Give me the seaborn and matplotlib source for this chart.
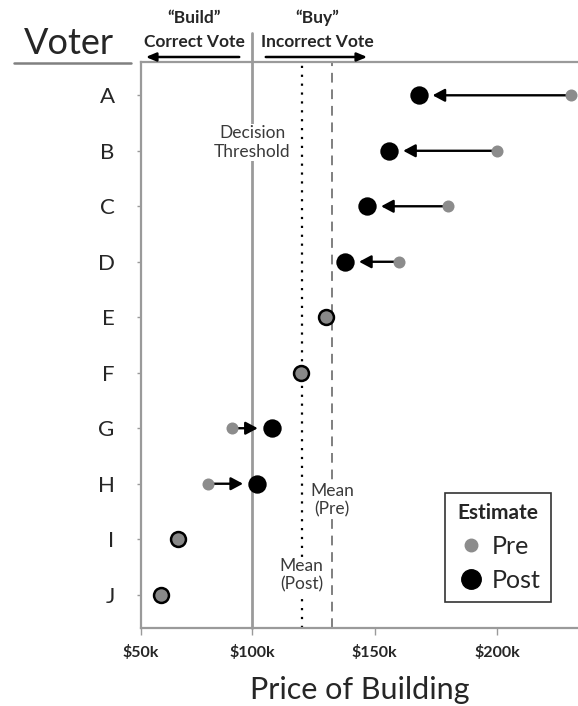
import numpy as np
import pandas as pd
import matplotlib.pyplot as plt
import seaborn as sns
from matplotlib.lines import Line2D
from matplotlib.patches import FancyArrowPatch

voters = ["A", "B", "C", "D", "E", "F", "G", "H", "I", "J"]
pre_k = [230, 200, 180, 160, 130, 120, 92, 82, 70, 63]
post_k = [168, 156, 147, 138, 130, 120, 108, 102, 70, 63]
threshold_k = 100
tick_k = [100, 150, 200]
tick_labels = ["$100k", "$150k", "$200k"]

W, H = 578, 706
sns.set_theme(style="white")
plt.rcParams["font.family"] = ["Lato", "DejaVu Sans"]

df = pd.DataFrame({"voter": voters,
                   "pre": np.array(pre_k) * 1000,
                   "post": np.array(post_k) * 1000})
df["pos"] = np.arange(len(df))
df["moved"] = df["pre"] != df["post"]
mean_pre = df["pre"].mean()
mean_post = df["post"].mean()

fig = plt.figure(figsize=(W / 100, H / 100), dpi=100)
ax = fig.add_axes([141 / W, 1 - 628 / H, 437 / W, 566 / H])


def fx(px):
    return px / W


def fy(py):
    return 1 - py / H


moved = df[df["moved"]]
same = df[~df["moved"]]

# arrows pre -> post
for _, r in moved.iterrows():
    ax.annotate("", xy=(r["post"], r["pos"]), xytext=(r["pre"], r["pos"]),
                arrowprops=dict(arrowstyle="-|>,head_length=0.6,head_width=0.32",
                                color="black", lw=1.7, shrinkA=0, shrinkB=10),
                zorder=2)

sns.scatterplot(data=moved, x="pre", y="pos", color="#8c8c8c", s=75,
                linewidth=0, ax=ax, zorder=3, legend=False)
sns.scatterplot(data=moved, x="post", y="pos", color="black", s=175,
                linewidth=0, ax=ax, zorder=3, legend=False)
sns.scatterplot(data=same, x="post", y="pos", color="#888888", s=115,
                edgecolor="black", linewidth=1.8, ax=ax, zorder=3, legend=False)

# reference lines
ax.axvline(threshold_k * 1000, ymin=0, ymax=(628 - 33) / 566, color="#9a9a9a",
           lw=2, clip_on=False, zorder=1)
ax.axvline(mean_post, color="black", lw=1.6, ls=(0, (1, 3)), zorder=1)
ax.axvline(mean_pre, color="#7f7f7f", lw=1.4, ls=(0, (5, 3.5)), zorder=1)

txt_kw = dict(ha="center", va="center", fontsize=12.5, color="#3a3a3a",
              linespacing=1.2, bbox=dict(facecolor="white", edgecolor="none", pad=1))
ax.text(threshold_k * 1000, 0.85, "Decision\nThreshold", **txt_kw)
ax.text(mean_pre, 7.3, "Mean\n(Pre)", **txt_kw)
ax.text(mean_post, 8.65, "Mean\n(Post)", **txt_kw)

# axes styling
left = 54700
ax.set_xlim(left, 233000)
ax.set_ylim(9.6, -0.6)
ax.set_xticks([left] + [t * 1000 for t in tick_k])
ax.set_xticklabels(["$50k"] + tick_labels, fontweight="bold", fontsize=11.5)
ax.set_yticks(df["pos"])
ax.set_yticklabels(voters, fontsize=16)
ax.tick_params(axis="x", length=5, width=1, color="#9a9a9a", pad=7, direction="out",
               bottom=True)
ax.tick_params(axis="y", length=3, width=1, color="#9a9a9a", pad=16, left=True)
ax.set_xlabel("Price of Building", fontsize=22, labelpad=12)
ax.set_ylabel("")
for side in ["top", "left", "bottom"]:
    ax.spines[side].set_color("#9a9a9a")
    ax.spines[side].set_linewidth(1.6)
ax.spines["right"].set_visible(False)

# legend
handles = [Line2D([], [], marker="o", ls="", color="#8c8c8c", markersize=9, label="Pre"),
           Line2D([], [], marker="o", ls="", color="black", markersize=14, label="Post")]
leg = ax.legend(handles=handles, title="Estimate", loc="lower right",
                bbox_to_anchor=(0.938, 0.046), fontsize=18, frameon=True,
                fancybox=False, borderaxespad=0, handletextpad=0.2,
                labelspacing=0.45, borderpad=0.4, handlelength=1.3)
leg.get_title().set_fontweight("bold")
leg.get_title().set_fontsize(15)
leg.get_frame().set_edgecolor("black")
leg.get_frame().set_linewidth(1.2)

# header
fig.text(fx(69), fy(43), "Voter", fontsize=26, ha="center", va="center")
fig.add_artist(Line2D([fx(14), fx(131)], [fy(63), fy(63)], color="#808080", lw=1.8))
head_kw = dict(fontsize=12.5, fontweight="bold", ha="center", va="center")
fig.text(fx(194), fy(18), "\u201cBuild\u201d", **head_kw)
fig.text(fx(194), fy(42), "Correct Vote", **head_kw)
fig.text(fx(317), fy(18), "\u201cBuy\u201d", **head_kw)
fig.text(fx(317), fy(42), "Incorrect Vote", **head_kw)
arrow_kw = dict(arrowstyle="-|>,head_length=0.6,head_width=0.25", color="black", lw=1.8)
fig.add_artist(FancyArrowPatch((fx(242), fy(57)), (fx(143), fy(57)),
                               transform=fig.transFigure, mutation_scale=10, **arrow_kw))
fig.add_artist(FancyArrowPatch((fx(263), fy(57)), (fx(370), fy(57)),
                               transform=fig.transFigure, mutation_scale=10, **arrow_kw))

fig.savefig("out.png", dpi=100)
